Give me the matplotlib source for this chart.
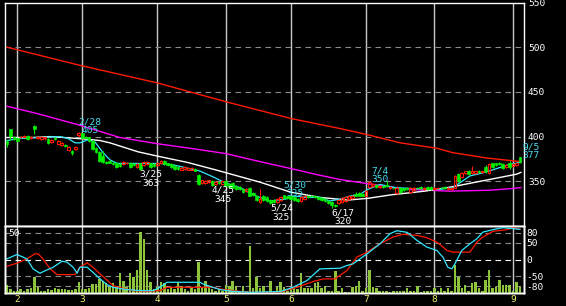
import matplotlib
matplotlib.use("Agg")
import matplotlib.pyplot as plt
from matplotlib.patches import Rectangle

plt.rcParams['font.family'] = ['DejaVu Sans Mono']

# trading-day index: 0 = 1/27, 150 = 9/5
opens = [395, 408, 400, 398, 399, 400, 401, 398, 412, 398, 397, 398, 397, 394, 398, 392, 391, 391, 385, 384,
         386, 402, 404, 400, 399, 395, 387, 383, 378, 372, 373, 371, 371, 369, 369, 370, 371, 369, 366, 370,
         368, 369, 370, 369, 368, 370, 373, 370, 369, 367, 366, 363, 364, 363, 363, 364, 357, 348, 348, 349,
         350, 347, 349, 347, 350, 347, 348, 345, 344, 341, 339, 343, 337, 334, 327, 334, 332, 329, 329, 327,
         329, 335, 334, 334, 332, 330, 328, 330, 334, 334, 334, 332, 331, 330, 328, 327, 324, 326, 327, 328,
         330, 331, 336, 337, 336, 334, 344, 345, 346, 344, 345, 346, 342, 343, 337, 343, 342, 343, 338, 340,
         343, 344, 341, 344, 344, 341, 342, 343, 344, 341, 341, 343, 358, 355, 359, 362, 359, 359, 362, 360,
         366, 359, 370, 370, 371, 369, 366, 370, 367, 368, 377]
highs = [396, 409, 401, 399, 401, 402, 402, 401, 413, 401, 401, 400, 398, 397, 399, 396, 394, 392, 389, 385,
         389, 405, 404, 401, 400, 396, 388, 384, 384, 373, 374, 373, 372, 371, 373, 372, 372, 370, 370, 371,
         373, 373, 371, 370, 372, 374, 374, 371, 370, 368, 367, 366, 367, 366, 366, 365, 358, 352, 351, 352,
         351, 350, 350, 351, 351, 348, 349, 346, 345, 342, 342, 344, 338, 335, 341, 335, 333, 330, 330, 331,
         333, 335, 334, 335, 333, 331, 333, 334, 335, 335, 335, 333, 332, 331, 329, 328, 325, 330, 332, 333,
         335, 335, 338, 338, 337, 340, 350, 348, 347, 346, 346, 350, 345, 344, 345, 344, 343, 344, 344, 344,
         344, 345, 344, 345, 345, 344, 344, 344, 345, 344, 344, 357, 359, 360, 362, 363, 367, 362, 363, 362,
         368, 370, 371, 371, 372, 370, 369, 373, 370, 371, 377]
lows = [388, 396, 396, 394, 398, 399, 396, 397, 403, 397, 396, 396, 392, 393, 396, 391, 390, 388, 384, 379,
        385, 400, 397, 397, 394, 385, 382, 372, 371, 369, 370, 368, 365, 366, 368, 369, 365, 367, 365, 363,
        367, 368, 365, 366, 367, 369, 368, 367, 365, 363, 363, 363, 363, 363, 363, 361, 346, 347, 347, 348,
        345, 346, 347, 346, 344, 343, 342, 340, 340, 337, 338, 333, 333, 328, 326, 328, 327, 325, 326, 326,
        328, 330, 330, 329, 328, 327, 327, 329, 331, 332, 331, 329, 328, 327, 325, 320, 321, 325, 326, 327,
        329, 330, 333, 333, 333, 333, 343, 344, 343, 343, 343, 344, 341, 341, 336, 337, 339, 340, 337, 339,
        341, 341, 340, 340, 340, 340, 341, 341, 341, 340, 340, 342, 349, 354, 358, 357, 358, 358, 359, 359,
        359, 358, 365, 367, 368, 364, 365, 364, 366, 367, 371]
closes = [392, 401, 397, 395, 400, 401, 397, 400, 408, 400, 400, 399, 393, 396, 397, 395, 393, 390, 388, 382,
          388, 404, 398, 398, 395, 386, 383, 373, 372, 370, 371, 369, 366, 367, 372, 371, 366, 368, 369, 364,
          372, 372, 366, 367, 371, 373, 369, 368, 366, 364, 364, 365, 366, 365, 365, 362, 347, 351, 350, 351,
          346, 349, 348, 350, 345, 344, 343, 341, 341, 338, 341, 334, 335, 329, 330, 329, 328, 326, 327, 330,
          332, 331, 331, 330, 329, 328, 332, 333, 332, 333, 332, 330, 329, 328, 326, 323, 322, 329, 331, 332,
          334, 334, 334, 334, 334, 339, 349, 347, 344, 345, 344, 345, 344, 342, 343, 338, 340, 341, 343, 343,
          342, 342, 343, 341, 341, 343, 343, 342, 342, 343, 343, 356, 350, 359, 361, 358, 361, 361, 360, 361,
          361, 369, 366, 368, 369, 365, 368, 366, 369, 370, 372]
volume = [7, 3, 2, 1.5, 3, 2, 3, 4, 13, 5, 2, 2, 3, 2.5, 4, 3, 3, 3, 2.5, 2.5,
          3, 9, 3, 3, 4, 7.5, 7.5, 12, 10, 8, 5, 8, 6, 17, 10, 5, 17, 13, 19, 51,
          45, 19, 9, 3, 5, 9, 8, 3, 5, 3, 9, 6, 3, 2, 5, 3, 26, 5, 10, 6,
          3, 2, 3, 2, 7, 6, 10, 6, 2, 6, 2, 39, 4, 13, 4, 6, 2, 10, 2, 5,
          9, 5, 2, 4, 4, 3, 17, 4, 4, 4, 8, 9, 4, 6, 2, 2, 18, 2, 4, 1,
          1, 5, 6, 10, 2, 4, 19, 5, 4, 2, 1.5, 2, 1, 2, 2, 2, 2, 4, 2, 2,
          6, 1, 2, 2, 2, 4, 2, 4, 2, 4, 2, 23, 13, 4, 7, 2, 8, 9, 4, 2,
          11, 19, 4, 5, 11, 7, 7, 7, 2, 9, 5]

# moving averages, sampled (day index, price)
ma_short_x = [0, 3.8, 9.6, 15.5, 17.8, 19.9, 21.3, 23.7, 25.7, 28.1, 30.1, 32.2, 35.1, 38.9, 44.7, 49.1,
              53.5, 56.4, 60.8, 63.7, 68.1, 72.5, 76.9, 81.3, 84.2, 87.1, 91.5, 94.4, 97.4, 100.3, 103.2,
              105.6, 109.1, 113.5, 117.8, 126.6, 130.4, 132.5, 135.4, 139.8, 144.2, 147.1, 150]
ma_short_y = [395.6, 398, 399, 400, 398, 393, 393, 396.5, 394, 382, 374, 370, 370, 370, 370, 368,
              364, 361.5, 354, 348.5, 343, 334, 328, 330, 333.5, 332, 332, 328, 330, 333.5, 335.5,
              341, 346.5, 343, 342, 341, 343, 348.5, 356, 360, 365.5, 369, 371]
ma_mid_x = [0, 7.6, 12.6, 22.2, 27.2, 30.1, 38.3, 44.2, 52.9, 60.8, 74, 82.8, 91.5, 99.7, 105.6,
            112.6, 122.2, 130.4, 140.4, 149.1, 150.3]
ma_mid_y = [399, 399, 400, 397.5, 395.6, 393, 383, 378, 371, 363, 349, 338, 332, 329, 331,
            335, 339, 344, 351.5, 358, 360]
ma_long_x = [0, 9.6, 21, 33, 44, 53.5, 64, 74, 83.3, 90, 97.4, 106, 117, 129.5, 141, 148, 150.3]
ma_long_y = [434, 425, 413, 399, 392, 387, 381, 372, 364, 358, 352, 347, 341, 339, 340, 342, 343]
ma_vlong_x = [0, 21, 44, 64, 83.3, 97.4, 105.6, 115, 125.7, 130.4, 140.4, 150.3]
ma_vlong_y = [500, 480, 460, 439, 420, 409, 402, 393, 387, 382, 376, 372]

# RCI (lower panel)
rci_fast_x = [0, 2.9, 5.8, 7.6, 9.6, 11.7, 13.5, 16.1, 17.5, 19.3, 20.5, 21.3, 23.4, 25.1, 27.2, 29.2,
              31, 35.1, 38.9, 42.7, 44.7, 46.8, 56.4, 57.3, 60.2, 62.3, 66.1, 71, 79.8, 83.6, 87.7,
              91.5, 97.4, 99.4, 101.2, 105.3, 109.1, 112, 114, 117, 119.9, 122.8, 125.7, 127.5, 128.9,
              130.1, 131, 133, 135.4, 137.4, 139.2, 142.1, 145, 148, 150]
rci_fast_y = [2, 15, 2, -28, -41, -31, -23, -5, -8, -23, -41, -23, -23, -38, -58, -75,
              -83, -90, -93, -93, -83, -68, -68, -73, -83, -90, -95, -98, -96, -83, -63,
              -28, -26, -18, -13, 17, 47, 77, 86, 81, 57, 37, 27, 7, -23,
              -28, -13, 27, 47, 62, 82, 89, 95, 92, 90]
rci_slow_x = [0, 2.9, 5.8, 8.2, 9.1, 10.5, 12.6, 14.6, 19.9, 21.3, 23.4, 25.1, 27.2, 29.2, 31, 33.9,
              36.8, 40.9, 44.7, 46.8, 60.2, 62.3, 66.1, 71, 78.9, 84.8, 89.5, 92.4, 95.9, 99.4, 102.3,
              105.3, 109.1, 112.9, 115.8, 119.9, 122.8, 125.7, 128.7, 130.4, 135.4, 137.4, 139.2, 142.1,
              146.2, 148, 150]
rci_slow_y = [-20, -11, 2, 17, 17, 2, -28, -45, -45, -23, -10, -23, -43, -61, -78, -86,
              -93, -95, -93, -83, -83, -88, -93, -98, -100, -83, -66, -58, -58, -33, 7,
              22, 47, 67, 75, 72, 65, 52, 27, 22, 22, 52, 67, 84,
              89, 95, 90]

month_idx = [3, 22, 44, 64, 83, 105, 125, 148]
month_labels = ['2', '3', '4', '5', '6', '7', '8', '9']

mark_idx = [21, 39, 60, 77, 81, 95, 106, 150]
mark_dates = ['2/28', '3/25', '4/25', '5/24', '5/30', '6/17', '7/4', '9/5']
mark_vals = [405, 363, 345, 325, 335, 320, 350, 377]
mark_high = [True, False, False, False, True, False, True, True]

price_ticks = [550, 500, 450, 400, 350]
rci_ticks = [80, 50, 0, -50, -80]

RED = '#ff1a00'
GREEN = '#00ee00'
CYAN = '#30e8ff'
LABEL_CYAN = '#48dcf0'
GRID = '#8c8c8c'
VLINE = '#c8c8c8'
VOL = '#8cc43c'
YELLOW = '#f0f070'
FS = 6.8

W, H = 566, 306
fig = plt.figure(figsize=(W / 100, H / 100), dpi=100, facecolor='black')
ax = fig.add_axes([5 / W, 1 - 226 / H, 519 / W, 223.5 / H], facecolor='black')
ax_low = fig.add_axes([5 / W, 1 - 293 / H, 519 / W, 67 / H], facecolor='black')
ax_vol = ax_low.twinx()
ax_rci = ax_low.twinx()

for a in (ax, ax_low, ax_vol, ax_rci):
    a.set_xlim(-0.6, 151.2)
    a.set_xticks([])
    a.set_yticks([])
    for s in a.spines.values():
        s.set_color('white')
        s.set_linewidth(1.0)
ax_vol.patch.set_visible(False)
ax_rci.patch.set_visible(False)

ax.set_ylim(300, 550)
ax_low.set_ylim(-100, 100)
ax_rci.set_ylim(-100, 100)
ax_vol.set_ylim(0, 56)

# grid
for m in month_idx:
    ax.axvline(m, color=VLINE, lw=1.0, zorder=1)
    ax_low.axvline(m, color=VLINE, lw=1.0, zorder=1)
for p in price_ticks[1:]:
    ax.axhline(p, color=GRID, lw=0.8, ls=(0, (5, 4)), zorder=1)
for r in rci_ticks:
    ax_low.axhline(r, color='white' if r == 0 else GRID, lw=0.8, ls=(0, (5, 4)), zorder=1)

# moving averages
ax.plot(ma_vlong_x, ma_vlong_y, color=RED, lw=1.0, zorder=3)
ax.plot(ma_long_x, ma_long_y, color='#ff00ff', lw=1.0, zorder=3)
ax.plot(ma_mid_x, ma_mid_y, color='white', lw=1.0, zorder=3)
ax.plot(ma_short_x, ma_short_y, color=CYAN, lw=0.9, zorder=3)

# candles: red hollow = up, green filled = down
for i in range(len(closes)):
    o, h, l, c = opens[i], highs[i], lows[i], closes[i]
    if c >= o:
        ax.vlines(i, l, o, color=RED, lw=0.8, zorder=4)
        ax.vlines(i, c, h, color=RED, lw=0.8, zorder=4)
        ax.add_patch(Rectangle((i - 0.4, o), 0.8, max(c - o, 0.3), fill=False,
                               edgecolor=RED, lw=0.8, zorder=5))
    else:
        ax.vlines(i, l, h, color=GREEN, lw=0.8, zorder=4)
        ax.add_patch(Rectangle((i - 0.4, c), 0.8, o - c, facecolor=GREEN,
                               edgecolor=GREEN, lw=0.5, zorder=5))

# high / low marks
for i, d, v, hi in zip(mark_idx, mark_dates, mark_vals, mark_high):
    col = LABEL_CYAN if hi else 'white'
    dy_date, dy_val = (10, 1.5) if hi else (-4.5, -13.5)
    ax.annotate(d, (i, v), xytext=(11, dy_date), textcoords='offset pixels',
                ha='center', va='center', color=col, fontsize=FS, zorder=6)
    ax.annotate(str(v), (i, v), xytext=(11, dy_val), textcoords='offset pixels',
                ha='center', va='center', color=col, fontsize=FS, zorder=6)

# volume and RCI
ax_vol.bar(range(len(volume)), volume, width=0.72, color=VOL, zorder=2)
ax_rci.plot(rci_slow_x, rci_slow_y, color=RED, lw=0.9)
ax_rci.plot(rci_fast_x, rci_fast_y, color=CYAN, lw=0.9)
ax_vol.annotate('50', (0, 50), xycoords=('axes fraction', 'data'), xytext=(3, 0),
                textcoords='offset pixels', ha='left', va='center', color='white', fontsize=FS)

# right-hand scale labels
for p in price_ticks:
    ax.annotate(str(p), (1, p), xycoords=('axes fraction', 'data'), xytext=(4, -1),
                textcoords='offset pixels', ha='left', va='center', color='white',
                fontsize=FS, annotation_clip=False)
for r in rci_ticks:
    ax_low.annotate(str(r), (1, r), xycoords=('axes fraction', 'data'), xytext=(2, -1),
                    textcoords='offset pixels', ha='left', va='center', color='white',
                    fontsize=FS, annotation_clip=False)

# month labels
for m, lab in zip(month_idx, month_labels):
    ax_low.annotate(lab, (m, 0), xycoords=('data', 'axes fraction'), xytext=(0, -6),
                    textcoords='offset pixels', ha='center', va='center', color=YELLOW,
                    fontsize=FS, annotation_clip=False)

fig.savefig('out.png', dpi=100, facecolor='black')
